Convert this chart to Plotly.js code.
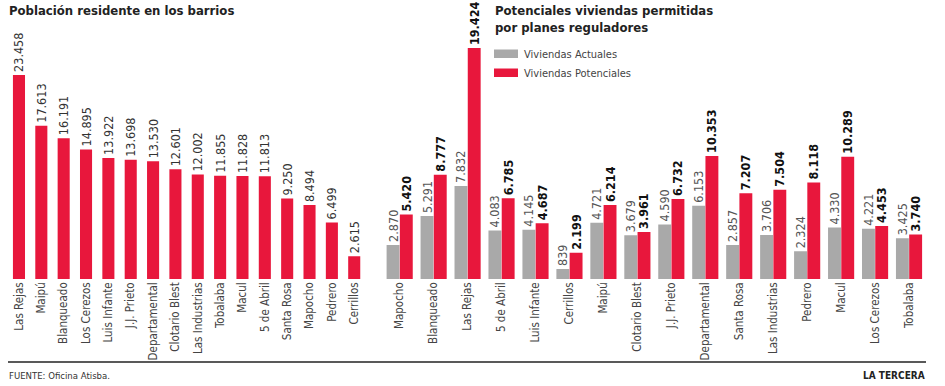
<!DOCTYPE html>
<html>
<head>
<meta charset="utf-8">
<script src="https://cdn.plot.ly/plotly-3.0.1.min.js"></script>
<style>html,body{margin:0;padding:0;background:#fff}#chart{width:945px;height:386px}</style>
</head>
<body>
<div id="chart"></div>
<script>
// Left chart: resident population by neighbourhood
const popBarrios = ["Las Rejas","Maipú","Blanqueado","Los Cerezos","Luis Infante","J.J. Prieto","Departamental","Clotario Blest","Las Industrias","Tobalaba","Macul","5 de Abril","Santa Rosa","Mapocho","Pedrero","Cerrillos"];
const popValues = [23458,17613,16191,14895,13922,13698,13530,12601,12002,11855,11828,11813,9250,8494,6499,2615];

// Right chart: current vs potential housing
const vivBarrios = ["Mapocho","Blanqueado","Las Rejas","5 de Abril","Luis Infante","Cerrillos","Maipú","Clotario Blest","J.J. Prieto","Departamental","Santa Rosa","Las Industrias","Pedrero","Macul","Los Cerezos","Tobalaba"];
const vivActuales = [2870,5291,7832,4083,4145,839,4721,3679,4590,6153,2857,3706,2324,4330,4221,3425];
const vivPotenciales = [5420,8777,19424,6785,4687,2199,6214,3961,6732,10353,7207,7504,8118,10289,4453,3740];

const RED = "#e8173c", GRAY = "#a9a9a9";
const FONT = "Liberation Sans Narrow, DejaVu Sans Condensed, Roboto, sans-serif";
const W = 945, H = 386;
const px = v => v / W, py = v => 1 - v / H;

const traces = [
  {type:"bar", x:popBarrios, y:popValues, xaxis:"x", yaxis:"y", marker:{color:RED},
   width:0.54, offset:-0.27,
   texttemplate:"%{y:,}", textposition:"outside", textangle:-90, constraintext:"none", cliponaxis:false,
   textfont:{family:FONT, size:12.5, color:"#333"}, showlegend:false},
  {type:"bar", name:"Viviendas Actuales", x:vivBarrios, y:vivActuales, xaxis:"x2", yaxis:"y2", marker:{color:GRAY},
   width:0.38, offset:-0.385,
   texttemplate:"%{y:,}", textposition:"outside", textangle:-90, constraintext:"none", cliponaxis:false,
   textfont:{family:FONT, size:12.5, color:"#555"}, showlegend:false},
  {type:"bar", name:"Viviendas Potenciales", x:vivBarrios, y:vivPotenciales, xaxis:"x2", yaxis:"y2", marker:{color:RED},
   width:0.38, offset:0.005,
   texttemplate:"<b>%{y:,}</b>", textposition:"outside", textangle:-90, constraintext:"none", cliponaxis:false,
   textfont:{family:FONT, size:12.5, color:"#111"}, showlegend:false}
];

const yDom = [py(279), py(40)];
const axX = {showgrid:false, zeroline:false, showline:false, ticks:"", tickangle:-90,
  tickfont:{family:FONT, size:11.5, color:"#444"}, fixedrange:true};
const axY = {showgrid:false, zeroline:false, showline:false, showticklabels:false, ticks:"", fixedrange:true};

const layout = {
  width:W, height:H, margin:{l:0,r:0,t:0,b:0}, paper_bgcolor:"#fff", plot_bgcolor:"#fff",
  separators:",.", barmode:"overlay",
  font:{family:FONT, color:"#333"},
  xaxis:Object.assign({}, axX, {domain:[px(7.8), px(365.4)], anchor:"y"}),
  yaxis:Object.assign({}, axY, {domain:yDom, range:[0, 239/0.0087], anchor:"x"}),
  xaxis2:Object.assign({}, axX, {domain:[px(382.7), px(926)], anchor:"y2"}),
  yaxis2:Object.assign({}, axY, {domain:yDom, range:[0, 239/0.01189], anchor:"x2"}),
  shapes:[
    {type:"line", xref:"paper", yref:"paper", x0:px(8), x1:px(926), y0:py(362), y1:py(362), line:{color:"#222", width:1.5}},
    {type:"rect", xref:"paper", yref:"paper", x0:px(494), x1:px(518), y0:py(58), y1:py(49.5), fillcolor:GRAY, line:{width:0}},
    {type:"rect", xref:"paper", yref:"paper", x0:px(494), x1:px(518), y0:py(77), y1:py(68.5), fillcolor:RED, line:{width:0}}
  ],
  annotations:[
    {xref:"paper", yref:"paper", x:px(7), y:py(11), xanchor:"left", yanchor:"middle", showarrow:false,
     text:"<b>Población residente en los barrios</b>", font:{family:FONT, size:13, color:"#222"}},
    {xref:"paper", yref:"paper", x:px(493), y:py(19), xanchor:"left", yanchor:"middle", align:"left", showarrow:false,
     text:"<b>Potenciales viviendas permitidas<br>por planes reguladores</b>", font:{family:FONT, size:13, color:"#222"}},
    {xref:"paper", yref:"paper", x:px(522), y:py(54), xanchor:"left", yanchor:"middle", showarrow:false,
     text:"Viviendas Actuales", font:{family:FONT, size:11, color:"#444"}},
    {xref:"paper", yref:"paper", x:px(522), y:py(73), xanchor:"left", yanchor:"middle", showarrow:false,
     text:"Viviendas Potenciales", font:{family:FONT, size:11, color:"#444"}},
    {xref:"paper", yref:"paper", x:px(7), y:py(375), xanchor:"left", yanchor:"middle", showarrow:false,
     text:"FUENTE: Oficina Atisba.", font:{family:FONT, size:9.5, color:"#333"}},
    {xref:"paper", yref:"paper", x:px(927), y:py(375), xanchor:"right", yanchor:"middle", showarrow:false,
     text:"<b>LA TERCERA</b>", font:{family:FONT, size:10, color:"#222"}}
  ]
};

Plotly.newPlot("chart", traces, layout, {displayModeBar:false, staticPlot:true});
</script>
</body>
</html>
